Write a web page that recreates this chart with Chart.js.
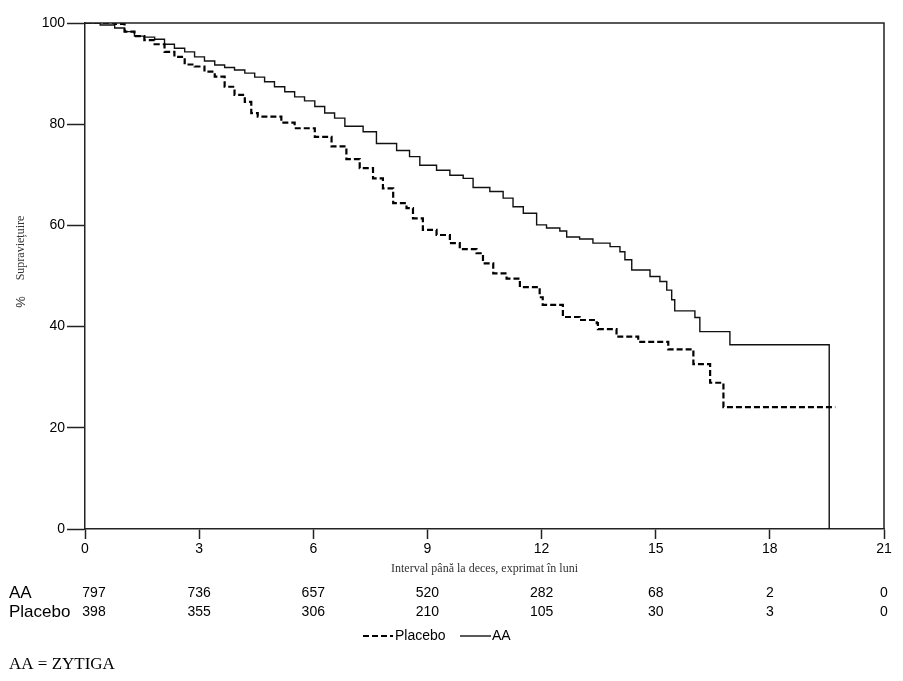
<!DOCTYPE html>
<html>
<head>
<meta charset="utf-8">
<script src="https://cdn.jsdelivr.net/npm/chart.js@4"></script>
<style>
  body { margin: 0; background: #fff; }
  canvas { display: block; }
</style>
</head>
<body>
<canvas id="km" width="903" height="681"></canvas>
<script>
// survival curves: [month, % alive]
var aaCurve = [
  [0,100],[0.4,99.6],[0.78,99.0],[1.04,98.3],[1.30,97.4],[1.56,97.2],[1.83,96.8],[2.09,95.8],[2.35,95.0],
  [2.62,94.3],[2.88,93.3],[3.14,92.5],[3.41,91.7],[3.67,91.2],[3.93,90.7],[4.20,90.1],[4.46,89.3],
  [4.72,88.4],[4.98,87.4],[5.25,86.4],[5.51,85.4],[5.77,84.6],[6.04,83.5],[6.30,82.2],[6.56,81.2],
  [6.83,79.6],[7.31,78.5],[7.66,76.2],[8.19,74.8],[8.53,73.6],[8.80,71.9],[9.24,70.9],[9.59,69.9],
  [9.94,69.3],[10.20,67.5],[10.64,66.7],[10.99,65.4],[11.25,63.7],[11.52,62.4],[11.87,60.1],
  [12.13,59.5],[12.48,58.9],[12.66,57.7],[13.0,57.3],[13.35,56.5],[13.80,55.8],[14.06,54.8],
  [14.19,53.2],[14.37,51.2],[14.85,49.9],[15.11,48.9],[15.29,47.2],[15.42,45.3],[15.50,43.1],
  [16.03,41.8],[16.16,39.0],[16.95,36.4],[19.56,0]
];
var placeboCurve = [
  [0,100],[0.78,99.8],[1.04,98.3],[1.30,97.4],[1.56,96.6],[1.83,95.8],[2.09,94.3],[2.35,93.3],
  [2.62,91.8],[2.88,91.4],[3.14,90.4],[3.41,89.4],[3.67,87.4],[3.93,85.8],[4.20,84.4],[4.37,82.2],
  [4.54,81.5],[5.16,80.3],[5.51,79.2],[6.04,77.5],[6.48,75.6],[6.87,73.1],[7.22,71.3],[7.57,69.3],
  [7.83,67.3],[8.10,64.4],[8.45,63.4],[8.62,61.4],[8.88,59.1],[9.24,58.1],[9.59,56.5],[9.85,55.3],
  [10.29,54.5],[10.46,52.5],[10.73,50.5],[11.08,49.5],[11.43,47.8],[11.95,45.8],[12.03,44.3],
  [12.56,41.9],[13.0,41.3],[13.45,40.7],[13.48,39.5],[13.97,38.0],[14.54,37.0],[15.33,35.5],
  [15.99,32.6],[16.43,28.9],[16.78,24.1],[19.72,24.1]
];

// number at risk table
var riskMonths = [0, 3, 6, 9, 12, 15, 18, 21];
var aaAtRisk = [797, 736, 657, 520, 282, 68, 2, 0];
var placeboAtRisk = [398, 355, 306, 210, 105, 30, 3, 0];

var xTitle = "Interval până la deces, exprimat în luni";
var yTitle = "Supraviețuire";
var footNote = "AA = ZYTIGA";

function toPoints(arr) {
  return arr.map(function (p) { return { x: p[0], y: p[1] }; });
}

var sans = "'Liberation Sans', Arial, sans-serif";
var serif = "'Liberation Serif', 'Times New Roman', serif";

// draws box, axis titles, risk table, legend and footnote
var extras = {
  id: 'extras',
  afterDraw: function (chart) {
    var ctx = chart.ctx;
    var a = chart.chartArea;
    var xs = chart.scales.x;
    ctx.save();
    ctx.strokeStyle = '#222';
    ctx.lineWidth = 1.5;
    ctx.beginPath();
    ctx.moveTo(a.left, a.top);
    ctx.lineTo(a.right, a.top);
    ctx.lineTo(a.right, a.bottom);
    ctx.stroke();

    ctx.textBaseline = 'middle';
    ctx.textAlign = 'center';
    ctx.font = '12px ' + serif;
    ctx.fillStyle = '#333';
    ctx.fillText(xTitle, (a.left + a.right) / 2, 569);

    // y title rotated
    ctx.save();
    ctx.translate(21, 0);
    ctx.rotate(-Math.PI / 2);
    ctx.font = '12px ' + serif;
    ctx.fillText(yTitle, -248, 0);
    ctx.font = '13px ' + sans;
    ctx.fillText('%', -302, 0);
    ctx.restore();

    ctx.fillStyle = '#000';
    ctx.font = '17px ' + sans;
    ctx.textAlign = 'left';
    ctx.fillText('AA', 9, 593);
    ctx.fillText('Placebo', 9, 612);
    ctx.font = '14px ' + sans;
    ctx.textAlign = 'center';
    for (var i = 0; i < riskMonths.length; i++) {
      var px = xs.getPixelForValue(riskMonths[i]);
      if (i === 0) px += 9;
      ctx.fillText(String(aaAtRisk[i]), px, 593);
      ctx.fillText(String(placeboAtRisk[i]), px, 612);
    }

    // legend
    ctx.strokeStyle = '#000';
    ctx.lineWidth = 1.8;
    ctx.setLineDash([6, 3]);
    ctx.beginPath();
    ctx.moveTo(363, 636);
    ctx.lineTo(393, 636);
    ctx.stroke();
    ctx.setLineDash([]);
    ctx.lineWidth = 1.3;
    ctx.beginPath();
    ctx.moveTo(460, 636);
    ctx.lineTo(491, 636);
    ctx.stroke();
    ctx.textAlign = 'left';
    ctx.font = '14px ' + sans;
    ctx.fillText('Placebo', 395, 636);
    ctx.fillText('AA', 492, 636);

    ctx.font = '17px ' + serif;
    ctx.fillText(footNote, 9, 665);
    ctx.restore();
  }
};

new Chart(document.getElementById('km'), {
  type: 'line',
  data: {
    datasets: [
      {
        label: 'Placebo',
        data: toPoints(placeboCurve),
        stepped: true,
        borderColor: '#000',
        borderWidth: 2.2,
        borderDash: [6, 3],
        pointRadius: 0,
        fill: false
      },
      {
        label: 'AA',
        data: toPoints(aaCurve),
        stepped: true,
        borderColor: '#111',
        borderWidth: 1.4,
        pointRadius: 0,
        fill: false
      }
    ]
  },
  options: {
    responsive: false,
    animation: false,
    devicePixelRatio: 1,
    layout: { padding: { left: 0, top: 23, right: 19, bottom: 0 } },
    plugins: { legend: { display: false }, tooltip: { enabled: false } },
    scales: {
      x: {
        type: 'linear',
        min: 0,
        max: 21,
        ticks: { stepSize: 3, color: '#000', padding: 2, maxRotation: 0, font: { family: sans, size: 14 } },
        grid: { drawOnChartArea: false, tickLength: 10, tickColor: '#222', tickWidth: 1.5 },
        border: { color: '#222', width: 1.5 },
        afterFit: function (s) { s.height = 152; }
      },
      y: {
        min: 0,
        max: 100,
        ticks: { stepSize: 20, color: '#000', padding: 2, font: { family: sans, size: 14 } },
        grid: { drawOnChartArea: false, tickLength: 18, tickColor: '#222', tickWidth: 1.5 },
        border: { color: '#222', width: 1.5 },
        afterFit: function (s) { s.width = 85; }
      }
    }
  },
  plugins: [extras]
});
</script>
</body>
</html>
